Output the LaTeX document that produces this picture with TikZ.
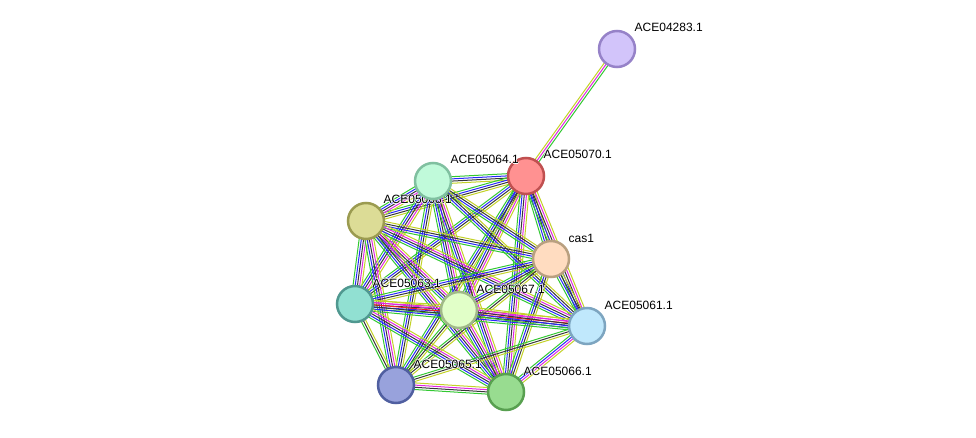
\documentclass[tikz,border=0pt]{standalone}
\usepackage{fontspec}
\setmainfont{Liberation Sans}
\usetikzlibrary{calc}
\definecolor{eg}{RGB}{50,200,50}
\definecolor{eu}{RGB}{40,40,250}
\definecolor{ek}{RGB}{55,55,55}
\definecolor{ey}{RGB}{195,210,40}
\definecolor{em}{RGB}{225,40,225}
\definecolor{er}{RGB}{250,30,30}
\definecolor{fA}{RGB}{210,196,250}\definecolor{bA}{RGB}{150,130,200}
\definecolor{fB}{RGB}{255,145,145}\definecolor{bB}{RGB}{192,80,80}
\definecolor{fC}{RGB}{192,250,218}\definecolor{bC}{RGB}{128,192,160}
\definecolor{fD}{RGB}{220,220,150}\definecolor{bD}{RGB}{155,155,80}
\definecolor{fE}{RGB}{255,220,192}\definecolor{bE}{RGB}{185,160,128}
\definecolor{fF}{RGB}{145,224,210}\definecolor{bF}{RGB}{80,152,144}
\definecolor{fG}{RGB}{225,255,200}\definecolor{bG}{RGB}{160,185,136}
\definecolor{fH}{RGB}{192,232,252}\definecolor{bH}{RGB}{125,165,192}
\definecolor{fI}{RGB}{152,162,220}\definecolor{bI}{RGB}{80,95,160}
\definecolor{fJ}{RGB}{152,220,144}\definecolor{bJ}{RGB}{88,160,80}
\tikzset{
  prot/.style={circle, minimum size=36pt, inner sep=0pt, line width=2.5pt},
  lbl/.style={anchor=base west, inner sep=0pt, font=\fontsize{12}{14}\selectfont},
  eline/.style={line width=1pt}
}
\newcommand\bundle[4]{%
  \foreach \c [count=\i] in {#4} {
    \pgfmathsetmacro\off{(\i-(#3+1)/2)*2.2}
    \draw[eline, draw=\c] ($(#1)!\off pt!90:(#2)$) -- ($(#2)!\off pt!-90:(#1)$);
  }}
\newcommand\halo[1]{\rlap{\textcolor{white}{\kern0.8pt#1}}\rlap{\textcolor{white}{\kern-0.8pt#1}}\rlap{\textcolor{white}{\raisebox{0.8pt}{#1}}}\rlap{\textcolor{white}{\raisebox{-0.8pt}{#1}}}#1}
\begin{document}
\begin{tikzpicture}[x=1pt,y=-1pt]
\useasboundingbox (0,0) rectangle (976,438);
\coordinate (A) at (617,49);
\coordinate (B) at (526,176);
\coordinate (C) at (433,181);
\coordinate (D) at (366,221);
\coordinate (E) at (551,259);
\coordinate (F) at (355,304);
\coordinate (G) at (459,310);
\coordinate (H) at (587,326);
\coordinate (I) at (396,385);
\coordinate (J) at (506,392);
% edges
\bundle{A}{B}{3}{ey,em,eg}
\bundle{B}{C}{4}{eg,eu,ek,ey}
\bundle{B}{D}{4}{eg,eu,ek,ey}
\bundle{B}{E}{4}{eg,eu,ek,ey}
\bundle{B}{F}{4}{eg,eu,ek,ey}
\bundle{B}{G}{5}{eg,eu,ek,em,ey}
\bundle{B}{H}{5}{eg,eu,ek,em,ey}
\bundle{B}{I}{4}{eg,eu,ek,ey}
\bundle{B}{J}{5}{eg,eu,ek,em,ey}
\bundle{C}{D}{5}{eg,eu,ek,em,ey}
\bundle{C}{E}{4}{eg,eu,ek,ey}
\bundle{C}{F}{5}{eg,eu,ek,em,ey}
\bundle{C}{G}{5}{eg,eu,ek,em,ey}
\bundle{C}{H}{4}{eg,eu,ek,ey}
\bundle{C}{I}{4}{eg,eu,ek,ey}
\bundle{C}{J}{5}{eg,eu,ek,em,ey}
\bundle{D}{E}{4}{eg,eu,ek,ey}
\bundle{D}{F}{5}{eg,eu,ek,em,ey}
\bundle{D}{G}{5}{eg,eu,ek,em,ey}
\bundle{D}{H}{5}{eg,eu,ek,em,ey}
\bundle{D}{I}{5}{eg,eu,ek,em,ey}
\bundle{D}{J}{5}{eg,eu,ek,em,ey}
\bundle{E}{F}{4}{eg,eu,ek,ey}
\bundle{E}{G}{4}{eg,eu,ek,ey}
\bundle{E}{H}{4}{eg,eu,ek,ey}
\bundle{E}{I}{3}{eg,ek,ey}
\bundle{E}{J}{4}{eg,eu,ek,ey}
\bundle{F}{G}{5}{eg,eu,ek,em,ey}
\bundle{F}{H}{6}{eg,eu,ek,er,em,ey}
\bundle{F}{I}{3}{eg,ek,ey}
\bundle{F}{J}{5}{eg,eu,ek,em,ey}
\bundle{G}{H}{5}{eg,eu,ek,em,ey}
\bundle{G}{I}{3}{eg,ek,ey}
\bundle{G}{J}{5}{eg,eu,ek,em,ey}
\bundle{H}{I}{3}{eg,ek,ey}
\bundle{H}{J}{4}{eg,eu,em,ey}
\bundle{I}{J}{4}{eg,ek,em,ey}
% nodes
\node[prot, fill=fA, draw=bA] (nA) at (A) {};
\node[lbl] (lA) at ($(A)+(17.5,-17)$) {\halo{ACE04283.1}};
\node[prot, fill=fB, draw=bB] (nB) at (B) {};
\node[lbl] (lB) at ($(B)+(17.5,-17)$) {\halo{ACE05070.1}};
\node[prot, fill=fD, draw=bD] (nD) at (D) {};
\node[lbl] (lD) at ($(D)+(17.5,-17)$) {\halo{ACE05068.1}};
\node[prot, fill=fC, draw=bC] (nC) at (C) {};
\node[lbl] (lC) at ($(C)+(17.5,-17)$) {\halo{ACE05064.1}};
\node[prot, fill=fE, draw=bE] (nE) at (E) {};
\node[lbl] (lE) at ($(E)+(17.5,-17)$) {\halo{cas1}};
\node[prot, fill=fF, draw=bF] (nF) at (F) {};
\node[lbl] (lF) at ($(F)+(17.5,-17)$) {\halo{ACE05063.1}};
\node[prot, fill=fG, draw=bG] (nG) at (G) {};
\node[lbl] (lG) at ($(G)+(17.5,-17)$) {\halo{ACE05067.1}};
\node[prot, fill=fH, draw=bH] (nH) at (H) {};
\node[lbl] (lH) at ($(H)+(17.5,-17)$) {\halo{ACE05061.1}};
\node[prot, fill=fI, draw=bI] (nI) at (I) {};
\node[lbl] (lI) at ($(I)+(17.5,-17)$) {\halo{ACE05065.1}};
\node[prot, fill=fJ, draw=bJ] (nJ) at (J) {};
\node[lbl] (lJ) at ($(J)+(17.5,-17)$) {\halo{ACE05066.1}};
\end{tikzpicture}
\end{document}
